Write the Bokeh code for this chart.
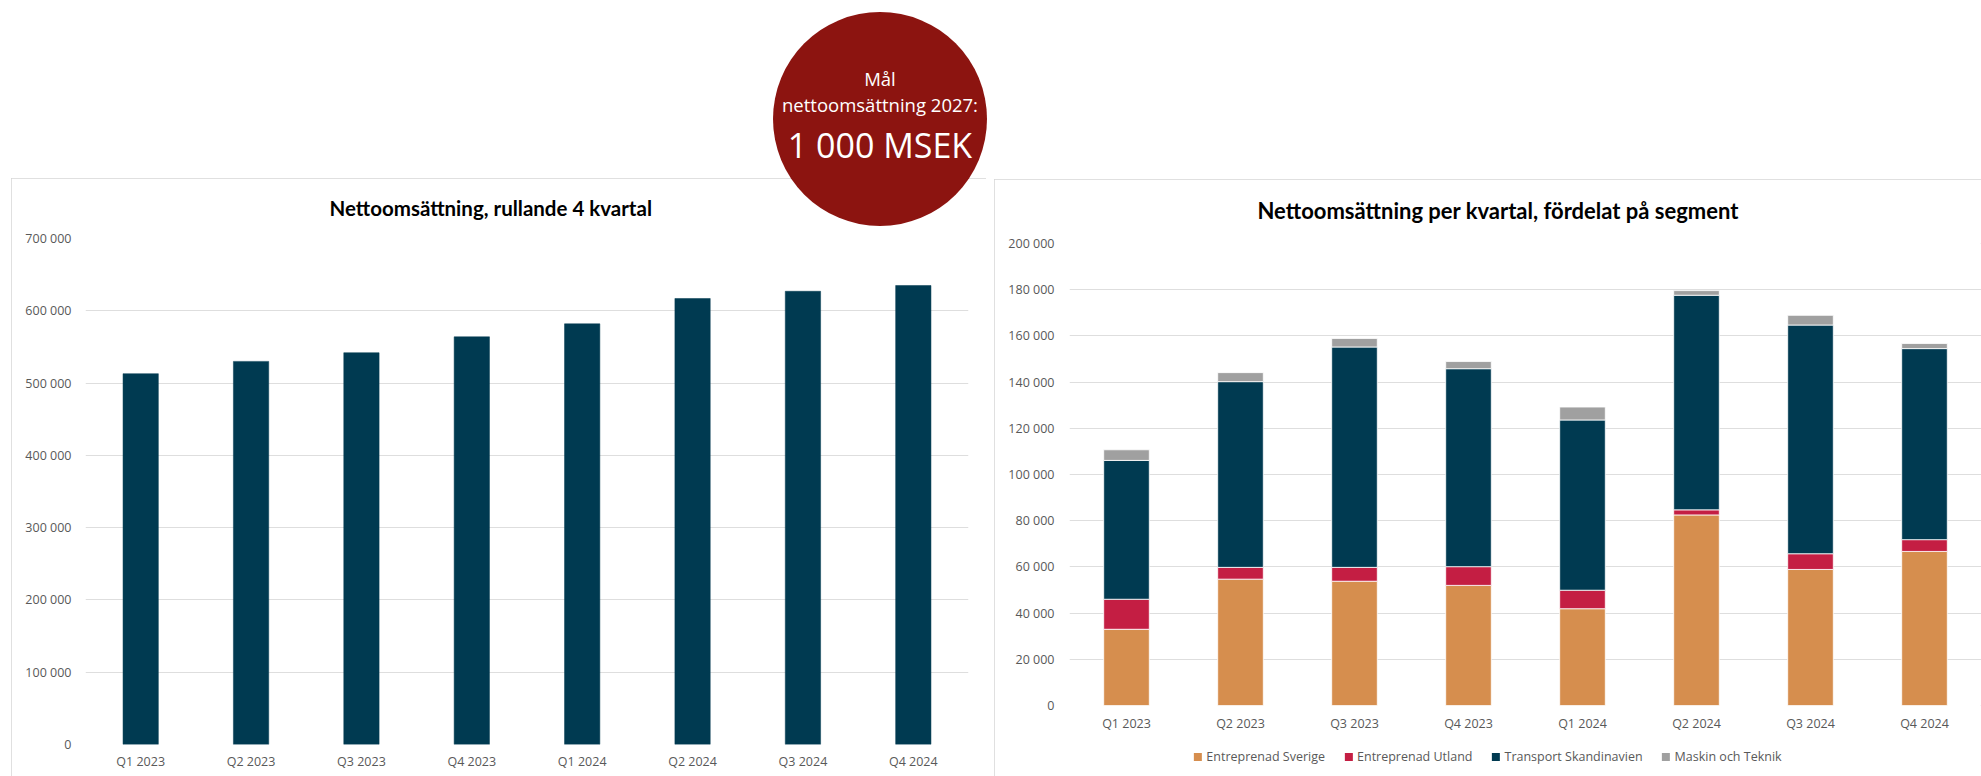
from bokeh.plotting import figure
from bokeh.models import (Range1d, FactorRange, FixedTicker, Legend, LegendItem,
                          ColumnDataSource, Div)
from bokeh.embed import file_html
from bokeh.resources import INLINE

# ---------------- data ----------------
quarters = ["Q1 2023", "Q2 2023", "Q3 2023", "Q4 2023",
            "Q1 2024", "Q2 2024", "Q3 2024", "Q4 2024"]

rolling_4q = [513000, 530000, 542000, 564000, 582000, 617000, 627000, 635000]

left_ticks = [0, 100000, 200000, 300000, 400000, 500000, 600000, 700000]
left_tick_labels = ["0", "100 000", "200 000", "300 000", "400 000",
                    "500 000", "600 000", "700 000"]

right_ticks = [0, 20000, 40000, 60000, 80000, 100000, 120000, 140000,
               160000, 180000, 200000]
right_tick_labels = ["0", "20 000", "40 000", "60 000", "80 000", "100 000",
                     "120 000", "140 000", "160 000", "180 000", "200 000"]

segments = ["Entreprenad Sverige", "Entreprenad Utland",
            "Transport Skandinavien", "Maskin och Teknik"]
entreprenad_sverige = [33000, 54700, 53800, 52000, 41900, 82500, 58900, 66700]
entreprenad_utland = [13000, 5100, 6000, 8100, 8000, 2200, 6800, 5100]
transport_skandinavien = [60100, 80400, 95400, 85700, 73700, 92900, 99000, 82700]
maskin_och_teknik = [4600, 3900, 3700, 3100, 5600, 2000, 4200, 2200]

goal_lines = ["Mål", "nettoomsättning 2027:", "1 000 MSEK"]

# ---------------- styles ----------------
NAVY = "#003A51"
ORANGE = "#D68E4E"
CRIMSON = "#C41E43"
GRAY = "#A0A0A0"
GOAL_RED = "#8C1410"
GRID = "#DEDEDE"
BORDER = "#D6D6D6"
TICK_COLOR = "#595959"
TICK_FONT = "Open Sans"
TITLE_FONT = "Lato"
seg_colors = [ORANGE, CRIMSON, NAVY, GRAY]


def panel_styles(left, top, outline=True):
    s = {"position": "absolute", "left": f"{left}px", "top": f"{top}px"}
    if outline:
        s.update({"outline": f"1px solid {BORDER}", "outline-offset": "-1px"})
    return s


def style(p, title_size, title_offset, title_standoff, x_standoff, y_standoff):
    p.outline_line_color = None
    p.background_fill_color = "white"
    p.border_fill_color = "white"
    p.xgrid.grid_line_color = None
    p.ygrid.grid_line_color = GRID
    p.ygrid.grid_line_width = 1.2
    for ax in (p.xaxis, p.yaxis):
        ax.axis_line_color = None
        ax.major_tick_line_color = None
        ax.minor_tick_line_color = None
        ax.major_tick_out = 0
        ax.major_tick_in = 0
        ax.minor_tick_out = 0
        ax.major_label_text_font = TICK_FONT
        ax.major_label_text_font_size = "12.5px"
        ax.major_label_text_color = TICK_COLOR
    p.xaxis.major_label_standoff = x_standoff
    p.yaxis.major_label_standoff = y_standoff
    p.title.text_font = TITLE_FONT
    p.title.text_font_style = "bold"
    p.title.text_font_size = title_size
    p.title.text_color = "black"
    p.title.align = "left"
    p.title.vertical_align = "top"
    p.title.offset = title_offset
    p.title.standoff = title_standoff


# ---------------- left chart ----------------
H = 598
pl = figure(width=975, height=H, output_backend="svg", toolbar_location=None,
            x_range=FactorRange(factors=quarters, range_padding=0),
            y_range=Range1d(0, 700000),
            min_border_left=74, min_border_right=18,
            min_border_top=60, min_border_bottom=32,
            title="Nettoomsättning, rullande 4 kvartal",
            styles=panel_styles(11, 178))
pl.vbar(x=quarters, top=rolling_4q, width=0.32, fill_color=NAVY,
        line_color=NAVY, line_width=0.5)
lt = FixedTicker(ticks=left_ticks)
pl.yaxis.ticker = lt
pl.ygrid.ticker = lt
pl.yaxis.major_label_overrides = dict(zip(left_ticks, left_tick_labels))
style(pl, "20.5px", 244, 34, 8, 14)

# ---------------- right chart ----------------
pr = figure(width=987, height=H, output_backend="svg", toolbar_location=None,
            x_range=FactorRange(factors=quarters, range_padding=0),
            y_range=Range1d(0, 200000),
            min_border_left=75, min_border_right=0,
            min_border_top=62, min_border_bottom=72,
            title="Nettoomsättning per kvartal, fördelat på segment",
            styles=panel_styles(994, 179))
keys = ["sverige", "utland", "transport", "maskin"]
src = ColumnDataSource(dict(quarter=quarters, sverige=entreprenad_sverige,
                            utland=entreprenad_utland,
                            transport=transport_skandinavien,
                            maskin=maskin_och_teknik))
rs = pr.vbar_stack(stackers=keys, x="quarter", width=0.4, color=seg_colors,
                   line_color="white", line_width=0.8, source=src)
rt = FixedTicker(ticks=right_ticks)
pr.yaxis.ticker = rt
pr.ygrid.ticker = rt
pr.yaxis.major_label_overrides = dict(zip(right_ticks, right_tick_labels))
style(pr, "22px", 188, 35, 9, 15)

# ---------------- segment legend (strip under the right chart) ----------------
# a key-only strip: its swatch renderers sit outside its (invisible) view range
lf = figure(width=660, height=30, output_backend="svg", toolbar_location=None,
            x_range=Range1d(5, 6), y_range=Range1d(5, 6),
            x_axis_location=None, y_axis_location=None,
            min_border_left=0, min_border_right=0, min_border_top=0,
            min_border_bottom=0, styles=panel_styles(1157, 741, outline=False))
lf.outline_line_color = None
lf.xgrid.visible = False
lf.ygrid.visible = False
lf.background_fill_color = "white"
lf.border_fill_color = "white"
key_renderers = [lf.vbar(x=[0], top=[0], width=0.5, fill_color=c, line_color=None)
                 for c in seg_colors]
legend = Legend(items=[LegendItem(label=s, renderers=[r], index=0)
                       for s, r in zip(segments, key_renderers)],
                orientation="horizontal", location="center",
                glyph_width=10, glyph_height=10, label_standoff=4, spacing=18,
                padding=0, margin=0, border_line_color=None,
                background_fill_alpha=0,
                label_text_font=TICK_FONT, label_text_font_size="12.5px",
                label_text_color=TICK_COLOR)
lf.add_layout(legend)

# ---------------- goal badge ----------------
line_tops = [57, 83, 113]
line_heights = [20, 20, 40]
font_sizes = [18.5, 18.5, 34]
spans = "".join(
    f'<div style="position:absolute;left:0;width:214px;top:{t}px;height:{h}px;'
    f'line-height:{h}px;font-size:{s}px;text-align:center;white-space:nowrap;">{txt}</div>'
    for txt, t, h, s in zip(goal_lines, line_tops, line_heights, font_sizes))
badge_html = (f'<div style="position:relative;width:214px;height:214px;border-radius:50%;'
              f'background:{GOAL_RED};color:#ffffff;font-family:\'Open Sans\',sans-serif;">'
              f'{spans}</div>')
badge = Div(text=badge_html, width=214, height=214, margin=0,
            styles={"position": "absolute", "left": "773px", "top": "12px",
                    "z-index": "10"})

open("out.html", "w").write(file_html([pl, pr, lf, badge], INLINE))
